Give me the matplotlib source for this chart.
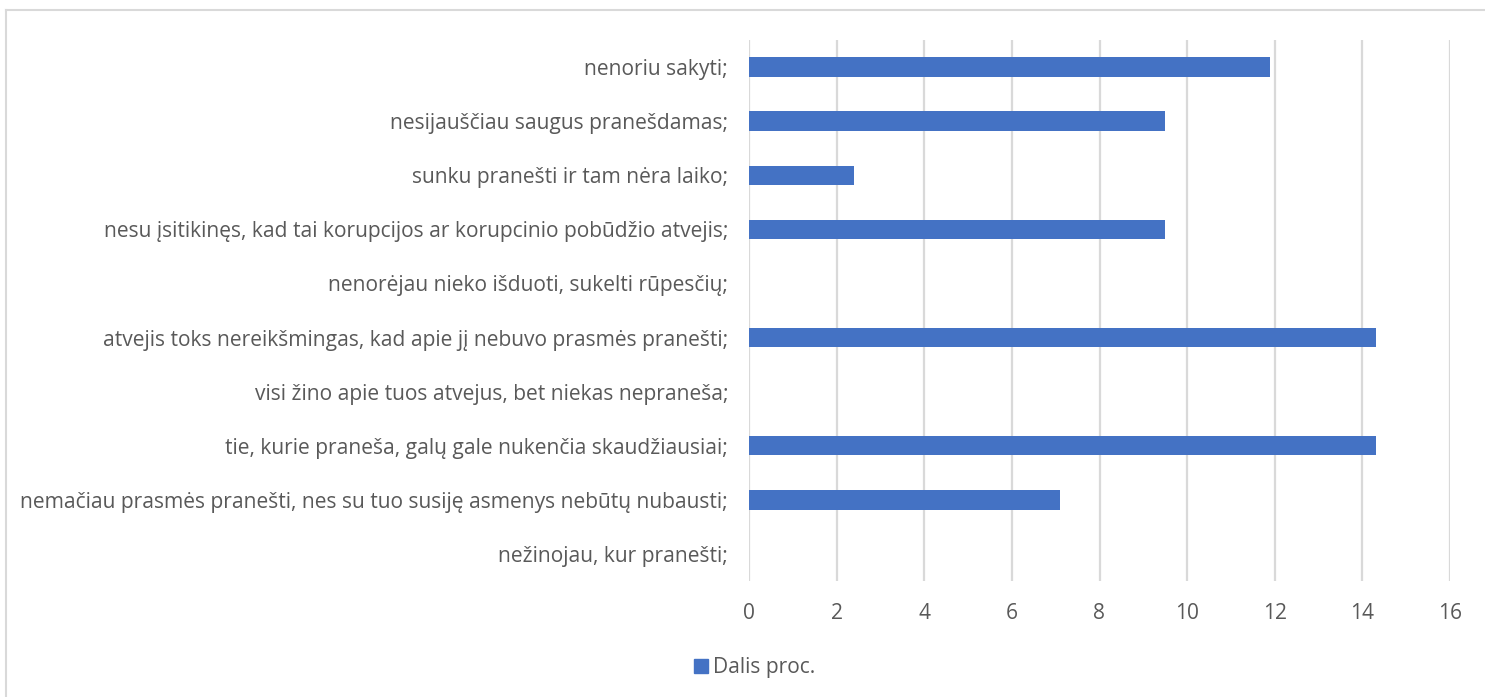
import matplotlib
matplotlib.use("Agg")
import matplotlib.pyplot as plt
from matplotlib.lines import Line2D

categories = [
    "nenoriu sakyti;",
    "nesijauščiau saugus pranešdamas;",
    "sunku pranešti ir tam nėra laiko;",
    "nesu įsitikinęs, kad tai korupcijos ar korupcinio pobūdžio atvejis;",
    "nenorėjau nieko išduoti, sukelti rūpesčių;",
    "atvejis toks nereikšmingas, kad apie jį nebuvo prasmės pranešti;",
    "visi žino apie tuos atvejus, bet niekas nepraneša;",
    "tie, kurie praneša, galų gale nukenčia skaudžiausiai;",
    "nemačiau prasmės pranešti, nes su tuo susiję asmenys nebūtų nubausti;",
    "nežinojau, kur pranešti;",
]
values = [11.9, 9.5, 2.4, 9.5, 0, 14.3, 0, 14.3, 7.1, 0]
xticks = [0, 2, 4, 6, 8, 10, 12, 14, 16]
series_name = "Dalis proc."

bar_color = "#4472C4"
text_color = "#595959"
grid_color = "#D9D9D9"

plt.rcParams["font.family"] = ["Open Sans", "DejaVu Sans"]

W, H = 1485, 697
fig = plt.figure(figsize=(W / 100, H / 100), dpi=100)

# plot area in pixel coordinates
left, right, top, bottom = 749, 1450, 40, 581
ax = fig.add_axes([left / W, 1 - bottom / H, (right - left) / W, (bottom - top) / H])

pos = list(range(len(categories)))
ax.barh(pos, values, height=0.36, color=bar_color, zorder=3)
ax.set_ylim(len(categories) - 0.5, -0.5)
ax.set_xlim(0, 16)
ax.set_xticks(xticks)
ax.set_xticklabels([str(t) for t in xticks], fontsize=15.1, color=text_color)
ax.set_yticks(pos)
ax.set_yticklabels(categories, fontsize=15.1, color=text_color)
ax.tick_params(axis="both", length=0)
ax.tick_params(axis="x", pad=16)
ax.tick_params(axis="y", pad=15)
ax.grid(axis="x", color=grid_color, linewidth=1.6, zorder=0)
for s in ax.spines.values():
    s.set_visible(False)

# chart frame
fig.add_artist(Line2D([6 / W, 6 / W], [0, 1 - 10 / H], color="#D9D9D9", linewidth=1.5))
fig.add_artist(Line2D([6 / W, 1], [1 - 10 / H, 1 - 10 / H], color="#D9D9D9", linewidth=1.5))

# legend
fig.patches.append(plt.Rectangle((694 / W, 1 - 673 / H), 14 / W, 14 / H,
                                 transform=fig.transFigure, color=bar_color))
fig.text(713 / W, 1 - 667 / H, series_name, fontsize=15.1, color=text_color, va="center")

fig.savefig("out.png", dpi=100)
